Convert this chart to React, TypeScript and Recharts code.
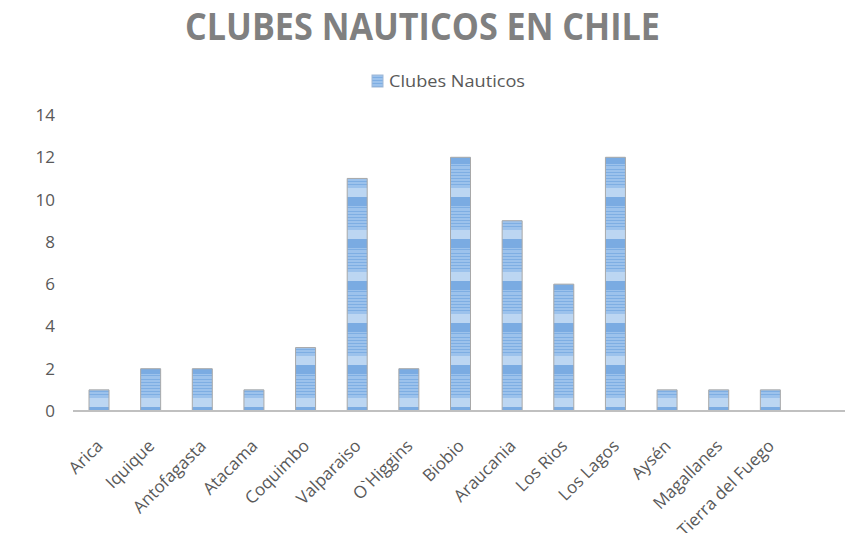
import React from 'react';
import { BarChart, Bar, XAxis, YAxis, Legend } from 'recharts';

const regions = ['Arica', 'Iquique', 'Antofagasta', 'Atacama', 'Coquimbo', 'Valparaiso', "O`Higgins", 'Biobio', 'Araucania', 'Los Rios', 'Los Lagos', 'Aysén', 'Magallanes', 'Tierra del Fuego'];
const clubes = [1, 2, 2, 1, 3, 11, 2, 12, 9, 6, 12, 1, 1, 1];
const yTicks = [0, 2, 4, 6, 8, 10, 12, 14];

const data = regions.map((name, i) => ({ name, clubes: clubes[i] }));

const FONT = '"Open Sans", Calibri, sans-serif';
const GRAY = '#595959';

const XTick = (props: any) => {
  const { x, y, payload } = props;
  return (
    <text
      x={x + 5}
      y={y + 28}
      transform={`rotate(-45, ${x + 5}, ${y + 28})`}
      textAnchor="end"
      fontFamily={FONT}
      fontSize={17}
      fill={GRAY}
    >
      {payload.value}
    </text>
  );
};

const LegendBox = () => (
  <svg width={845} height={26} style={{ display: 'block' }}>
    <rect x={372} y={5} width={11} height={12} fill="url(#stripes)" stroke="#9fb8d6" strokeWidth={1} />
    <text x={389} y={17} fontFamily={FONT} fontSize={17} fill={GRAY} textLength={136} lengthAdjust="spacingAndGlyphs">
      Clubes Nauticos
    </text>
  </svg>
);

export default function App() {
  return (
    <div style={{ position: 'absolute', left: 0, top: 0, width: 845, height: 533, background: '#fff' }}>
      <svg width={845} height={60} style={{ position: 'absolute', left: 0, top: 0 }}>
        <text x={185} y={40} fontFamily={FONT} fontWeight={700} fontSize={37} fill="#808080" textLength={475} lengthAdjust="spacingAndGlyphs">
          CLUBES NAUTICOS EN CHILE
        </text>
      </svg>
      <BarChart width={845} height={533} data={data} margin={{ top: 89, right: 0, bottom: 92, left: 0 }} barSize={20}>
        <defs>
          <pattern id="stripes" patternUnits="userSpaceOnUse" width={10} height={42}>
            <rect x={0} y={0} width={10} height={42} fill="#9cc2ec" />
            <rect x={0} y={1} width={10} height={1} fill="#7eaee3" />
            <rect x={0} y={4} width={10} height={1} fill="#7eaee3" />
            <rect x={0} y={7} width={10} height={1} fill="#7eaee3" />
            <rect x={0} y={10} width={10} height={1} fill="#7eaee3" />
            <rect x={0} y={13} width={10} height={1} fill="#7eaee3" />
            <rect x={0} y={16} width={10} height={1} fill="#7eaee3" />
            <rect x={0} y={20} width={10} height={9} fill="#bcd6f2" />
            <rect x={0} y={29} width={10} height={9} fill="#7aabe2" />
            <rect x={0} y={39} width={10} height={1} fill="#7eaee3" />
          </pattern>
        </defs>
        <XAxis
          dataKey="name"
          interval={0}
          tickLine={false}
          axisLine={{ stroke: '#c0c0c0', strokeWidth: 2 }}
          tick={<XTick />}
          padding={{ left: 0, right: 49 }}
        />
        <YAxis
          width={73}
          domain={[0, 14]}
          ticks={yTicks}
          axisLine={false}
          tickLine={false}
          tickSize={0}
          tickMargin={18}
          tick={{ fontFamily: FONT, fontSize: 17, fill: GRAY }}
        />
        <Legend
          layout="vertical"
          align="center"
          verticalAlign="top"
          content={<LegendBox />}
          wrapperStyle={{ top: 70, left: 0, width: 845 }}
        />
        <Bar dataKey="clubes" name="Clubes Nauticos" fill="url(#stripes)" stroke="#a8a8a8" strokeWidth={1} isAnimationActive={false} />
      </BarChart>
    </div>
  );
}
